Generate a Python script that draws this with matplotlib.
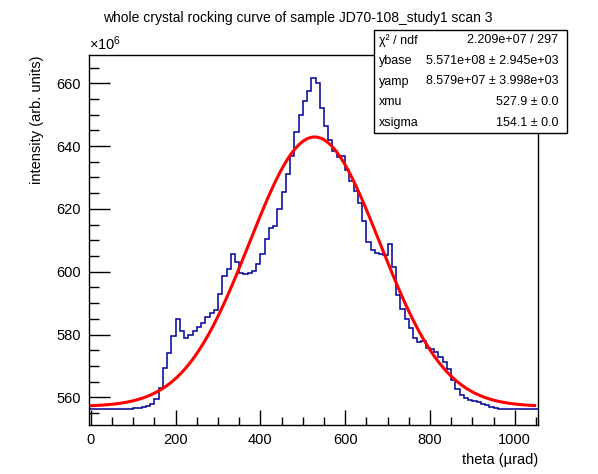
import matplotlib
matplotlib.use("Agg")
import matplotlib.pyplot as plt
from matplotlib.ticker import MultipleLocator
import numpy as np

plt.rcParams['font.family'] = ['Liberation Sans', 'DejaVu Sans']
plt.rcParams['mathtext.fontset'] = 'custom'
plt.rcParams['mathtext.rm'] = 'Liberation Sans'
plt.rcParams['mathtext.it'] = 'Liberation Sans'

# histogram: 10 urad bins from 0 to 1050, intensity in units of 1e6
bin_lo = 0
bin_width = 10
intensity = [
    556.2, 556.2, 556.2, 556.3, 556.3, 556.2, 556.2, 556.3, 556.2, 556.4,
    556.5, 556.7, 556.9, 557.2, 558.0, 559.5, 563.0, 569.5, 574.0, 579.4,
    584.8, 581.0, 578.8, 580.0, 581.0, 582.3, 583.6, 585.6, 586.8, 587.8,
    593.0, 598.5, 601.0, 605.8, 603.0, 599.5, 599.4, 599.7, 600.3, 602.5,
    605.5, 610.5, 614.0, 614.4, 620.0, 625.5, 631.0, 637.0, 644.5, 650.0,
    654.5, 657.5, 661.8, 660.0, 652.0, 646.5, 642.0, 638.5, 636.5, 636.8,
    632.5, 629.0, 625.8, 622.0, 616.0, 609.5, 606.8, 606.0, 605.5, 605.3,
    608.8, 601.5, 592.5, 588.0, 585.0, 582.0, 579.0, 577.7, 577.9, 575.8,
    575.3, 574.5, 572.8, 571.3, 569.0, 565.5, 562.8, 560.8, 559.7, 559.2,
    559.0, 558.6, 558.0, 557.5, 557.0, 556.6, 556.3, 556.2, 556.3, 556.2,
    556.2, 556.2, 556.2, 556.2, 556.2,
]

# fit result shown in the stats box
ybase = 5.571e8
yamp = 8.579e7
xmu = 527.9
xsigma = 154.1
fit_range = (0, 1047)

stat_names = ["χ² / ndf", "ybase", "yamp", "xmu", "xsigma"]
stat_values = ["2.209e+07 / 297", "5.571e+08 ± 2.945e+03",
               "8.579e+07 ± 3.998e+03", "527.9 ± 0.0", "154.1 ± 0.0"]

W, H = 598, 474
fig = plt.figure(figsize=(W / 100, H / 100), dpi=100)
ax = fig.add_axes([89 / W, 1 - 425 / H, (538 - 89) / W, (425 - 55) / H])

edges = bin_lo + bin_width * np.arange(len(intensity) + 1, dtype=float)
edges[0] = -4.5
edges[-1] = 1055
ax.stairs(intensity, edges, color='#000099', lw=1.1, baseline=None)

xf = np.linspace(fit_range[0], fit_range[1], 300)
yf = ybase + yamp * np.exp(-0.5 * ((xf - xmu) / xsigma) ** 2)
ax.plot(xf, yf / 1e6, color='#ff0000', lw=2.2)

ax.set_xlim(-4.5, 1055)
ax.set_ylim(551.2, 669.0)
ax.xaxis.set_major_locator(MultipleLocator(200))
ax.xaxis.set_minor_locator(MultipleLocator(50))
ax.yaxis.set_major_locator(MultipleLocator(20))
ax.yaxis.set_minor_locator(MultipleLocator(5))
ax.tick_params(which='both', direction='in', top=False, right=False,
               labelsize=10.5, width=1)
ax.tick_params(axis='x', which='major', length=11, pad=6)
ax.tick_params(axis='x', which='minor', length=5.5)
ax.tick_params(axis='y', which='major', length=15, pad=6)
ax.tick_params(axis='y', which='minor', length=7)
for s in ax.spines.values():
    s.set_linewidth(1)

ax.set_xlabel("theta (µrad)", fontsize=10.5, loc='right', labelpad=4)
ax.set_ylabel("intensity (arb. units)", fontsize=10.5, loc='top', labelpad=9)
fig.text(89 / W, 1 - 50 / H, "×10$^{6}$", fontsize=10.5, ha='left', va='baseline')
fig.text(298 / W, 1 - 22 / H, "whole crystal rocking curve of sample JD70-108_study1 scan 3",
         fontsize=10, ha='center', va='baseline')

# stats box
bx0, bx1, by0, by1 = 374, 567, 30, 133
box = plt.Rectangle((bx0 / W, 1 - by1 / H), (bx1 - bx0) / W, (by1 - by0) / H,
                    transform=fig.transFigure, facecolor='white',
                    edgecolor='black', lw=1, zorder=5)
fig.patches.append(box)
row_h = (by1 - by0) / len(stat_names)
for i, (n, v) in enumerate(zip(stat_names, stat_values)):
    yc = 1 - (by0 + row_h * (i + 0.5)) / H
    fig.text((bx0 + 5) / W, yc, n, fontsize=9, ha='left', va='center', zorder=6)
    fig.text((bx1 - 9) / W, yc, v, fontsize=9, ha='right', va='center', zorder=6)

fig.savefig("out.png", dpi=100)
